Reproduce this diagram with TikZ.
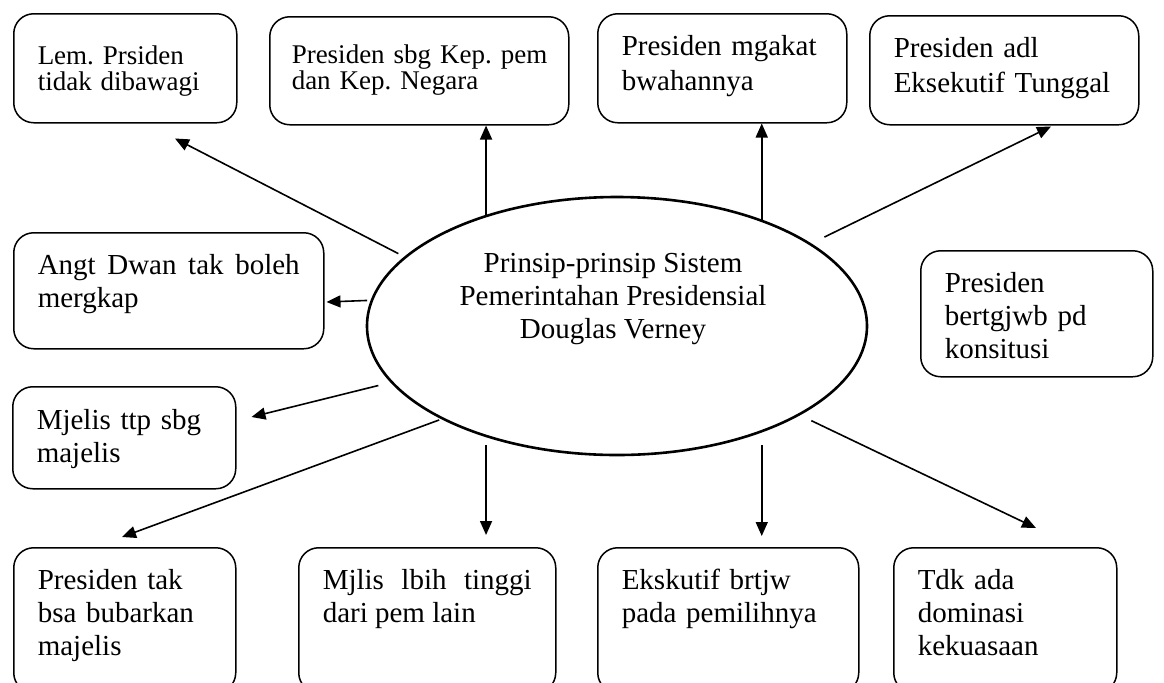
\documentclass[tikz,border=0pt]{standalone}
\usepackage{fontspec}
\setmainfont{Liberation Serif}
\usetikzlibrary{arrows.meta,positioning,calc,shapes.geometric}
\tolerance=9999
\frenchspacing

\begin{document}
\begin{tikzpicture}[
  x=0.5pt, y=-0.5pt,
  font=\fontsize{14.5}{16.5}\selectfont,
  box/.style={draw, line width=0.75pt, rounded corners=10pt, anchor=north west, align=left,
    inner xsep=12pt, inner ysep=0pt, text height=21pt},
  big/.style={font=\fontsize{14.5}{17.25}\selectfont},
  slim/.style={font=\fontsize{13.5}{13}\selectfont},
  arrow/.style={-{Triangle[length=7pt,width=6pt]}, line width=0.8pt}
]
\useasboundingbox (0,0) rectangle (1164,682);
\clip (0,0) rectangle (1164,682);

% top row
\node[box, slim, text width=87.5pt, text height=25.5pt, text depth=29pt] (lem) at (13,13) {Lem. Prsiden\\tidak dibawagi};
\node[box, slim, inner xsep=11pt, text width=127.5pt, text height=23.5pt, text depth=30.5pt] (sbg) at (269,16) {\mbox{Presiden sbg Kep. pem}\\dan Kep. Negara};
\node[box, big, text width=100.5pt, text depth=33.5pt] (mgakat) at (597,13) {Presiden mgakat\\bwahannya};
\node[box, big, text width=110.5pt, text depth=33.5pt] (adl) at (869,15) {Presiden adl\\Eksekutif Tunggal};

% middle
\node[box, align=justify, text width=131pt, text depth=37pt] (angt) at (13,232) {Angt Dwan tak boleh mergkap};
\node[box, text width=92pt, text depth=42pt] (bert) at (920,250) {Presiden\\bertgjwb pd\\konsitusi};
\node[box, text width=87.5pt, text height=21.5pt, text depth=29.5pt] (mjelis) at (12,386) {Mjelis ttp sbg\\majelis};

% bottom row
\node[box, text width=87pt, text depth=51.5pt] (ptak) at (13,547) {Presiden tak\\bsa bubarkan\\majelis};
\node[box, align=justify, text width=104.5pt, text depth=51.5pt] (mjlis) at (298,547) {Mjlis lbih tinggi dari pem lain};
\node[box, text width=106.5pt, text depth=51.5pt] (eksk) at (597,547) {Ekskutif brtjw\\pada pemilihnya};
\node[box, text width=87.5pt, text depth=51.5pt] (tdk) at (893,547) {Tdk ada\\dominasi\\kekuasaan};

% centre
\node[ellipse, draw, line width=1.3pt, minimum width=250pt, minimum height=129pt, inner sep=0pt, outer sep=0pt] (core) at (617,326) {};
\node[align=center, inner sep=0pt] (title) at (613,299) {Prinsip-prinsip Sistem\\Pemerintahan Presidensial\\Douglas Verney};

\draw[arrow, shorten <=4pt] (core.162) -- ($(lem.south west)+(162,15)$);
\draw[arrow] (core.140) -- (core.140 |- sbg.south);
\draw[arrow] (core.36) -- (core.36 |- mgakat.south);
\draw[arrow, shorten <=8pt] (core.23) -- ($(adl.south west)+(182,1)$);
\draw[arrow, shorten <=2.5pt] (core.174) -- ($(angt.north east)+(2,70)$);
\draw[arrow, shorten <=7pt] (core.194) -- ($(mjelis.north east)+(15,31)$);
\draw[arrow, shorten <=2pt] (core.208) -- ($(ptak.north west)+(109,-10)$);
\draw[arrow, shorten <=4.5pt] (core.220) -- ($(core.220 |- mjlis.north)+(0,-12)$);
\draw[arrow, shorten <=7pt] (core.324) -- ($(core.324 |- eksk.north)+(0,-11)$);
\draw[arrow, shorten <=7pt] (core.334) -- ($(tdk.north west)+(143,-19)$);

\end{tikzpicture}
\end{document}
